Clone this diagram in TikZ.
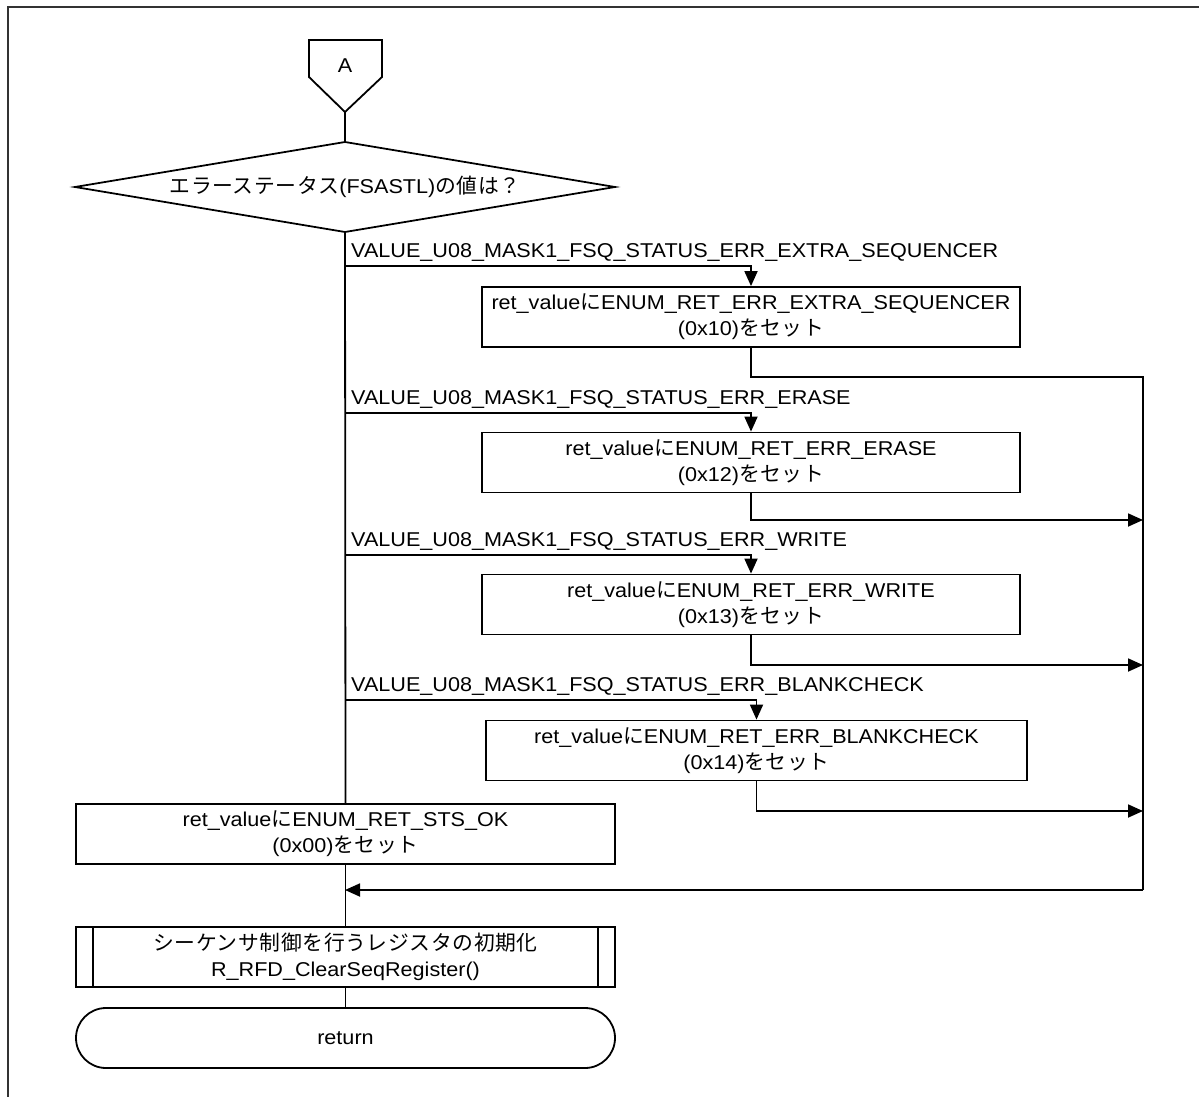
\documentclass[tikz,border=0pt]{standalone}
\usepackage{fontspec}
\setmainfont[FakeStretch=1.08]{Liberation Sans}
\newfontfamily\jpfont[Scale=1.04,LetterSpace=3]{Noto Sans CJK JP}
\newcommand{\jp}[1]{{\jpfont #1}}
\usetikzlibrary{arrows.meta}

\begin{document}
\begin{tikzpicture}[x=1pt,y=-1pt,
  font=\fontsize{20}{26}\selectfont,
  flow/.style={line width=1.8pt, draw=black},
  arr/.style={flow, -{Triangle[width=13pt,length=15pt]}},
  procbox/.style={draw, line width=1.8pt, minimum width=538pt, minimum height=60pt,
                  align=center, inner sep=0pt},
  subbox/.style={procbox, minimum width=539pt},
  termbox/.style={procbox, minimum width=539pt, rounded corners=30pt},
  caselabel/.style={anchor=base west, inner sep=0pt}]

\useasboundingbox (0,0) rectangle (1199,1097);

% page frame
\draw[line width=2.5pt, draw=black!80] (8,1097) -- (8,7) -- (1199,7);

% off-page connector A
\coordinate (Atip) at (345,112);
\draw[flow] (309,40) -- (382,40) -- (382,77) -- (Atip) -- (309,77) -- cycle;
\node (A) at (345,66) {A};

% decision
\coordinate (dtop) at (345,142);
\coordinate (dleft) at (75,187);
\coordinate (dright) at (615,187);
\coordinate (dbot) at (345,232);
\draw[flow] (dleft) -- (dtop) -- (dright) -- (dbot) -- cycle;
\node (dec) at (345,187) {\jp{エラーステータス}(FSASTL)\jp{の値は？}};
\draw[flow] (Atip) -- (dtop);

% case boxes
\node[procbox] (b1) at (751,317) {ret\_value\jp{に}ENUM\_RET\_ERR\_EXTRA\_SEQUENCER\\(0x10)\jp{をセット}};
\node[procbox] (b2) at (751,462.5) {ret\_value\jp{に}ENUM\_RET\_ERR\_ERASE\\(0x12)\jp{をセット}};
\node[procbox] (b3) at (751,604.5) {ret\_value\jp{に}ENUM\_RET\_ERR\_WRITE\\(0x13)\jp{をセット}};
\node[procbox, minimum width=541pt] (b4) at (756.5,750.5) {ret\_value\jp{に}ENUM\_RET\_ERR\_BLANKCHECK\\(0x14)\jp{をセット}};

% default, subroutine, return
\node[procbox, minimum width=539pt] (ok) at (345.5,834) {ret\_value\jp{に}ENUM\_RET\_STS\_OK\\(0x00)\jp{をセット}};
\node[subbox] (sub) at (345.5,957) {\jp{シーケンサ制御を行うレジスタの初期化}\\R\_RFD\_ClearSeqRegister()};
\draw[flow] ([xshift=18pt]sub.north west) -- ([xshift=18pt]sub.south west);
\draw[flow] ([xshift=-18pt]sub.north east) -- ([xshift=-18pt]sub.south east);
\node[termbox] (ret) at (345.5,1038) {return};

% case labels
\node[caselabel] (l1) at (351,257) {VALUE\_U08\_MASK1\_FSQ\_STATUS\_ERR\_EXTRA\_SEQUENCER};
\node[caselabel] (l2) at (351,404) {VALUE\_U08\_MASK1\_FSQ\_STATUS\_ERR\_ERASE};
\node[caselabel] (l3) at (351,546) {VALUE\_U08\_MASK1\_FSQ\_STATUS\_ERR\_WRITE};
\node[caselabel] (l4) at (351,691) {VALUE\_U08\_MASK1\_FSQ\_STATUS\_ERR\_BLANKCHECK};

% main spine
\draw[flow] (dbot) -- (ok.north);

% branches off the spine
\coordinate (s1) at (345,266);
\coordinate (s2) at (345,413);
\coordinate (s3) at (345,555);
\coordinate (s4) at (345,700);
\draw[arr] (s1) -| (b1.north);
\draw[arr] (s2) -| (b2.north);
\draw[arr] (s3) -| (b3.north);
\draw[arr] (s4) -| (b4.north);

% merge on the right
\coordinate (r1) at (1143,377);
\coordinate (r2) at (1143,520);
\coordinate (r3) at (1143,665);
\coordinate (r4) at (1143,811);
\coordinate (rbot) at (1143,890);
\coordinate (m) at (345,890);
\draw[flow] (b1.south) |- (r1) -- (rbot);
\draw[arr] (b2.south) |- (r2);
\draw[arr] (b3.south) |- (r3);
\draw[arr] (b4.south) |- (r4);
\draw[arr] (rbot) -- (m);

% lower spine
\draw[flow] (ok.south) -- (sub.north);
\draw[flow] (sub.south) -- (ret.north);
\end{tikzpicture}
\end{document}
